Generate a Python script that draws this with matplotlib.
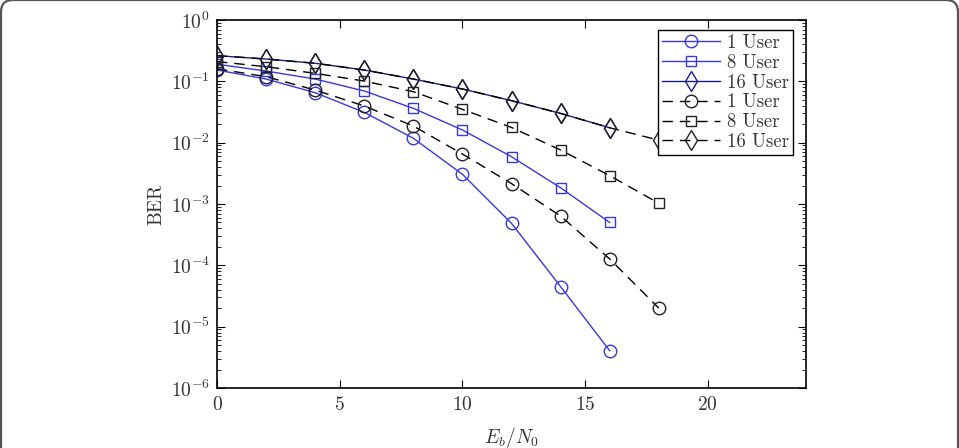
import numpy as np
import matplotlib
matplotlib.use("Agg")
import matplotlib.pyplot as plt
from matplotlib.patches import FancyBboxPatch
from matplotlib.ticker import LogLocator, NullFormatter, FixedLocator

plt.rcParams['font.family'] = ['cmr10', 'DejaVu Serif']
plt.rcParams['mathtext.fontset'] = 'cm'
plt.rcParams['axes.formatter.use_mathtext'] = True

# Data
ebn0_sim = [0, 2, 4, 6, 8, 10, 12, 14, 16]
ebn0_th = [0, 2, 4, 6, 8, 10, 12, 14, 16, 18]

ber_1_sim = [0.153, 0.109, 0.0653, 0.0312, 0.0118, 0.00305, 4.84e-4, 4.5e-5, 4.05e-6]
ber_8_sim = [0.19, 0.147, 0.109, 0.0696, 0.0363, 0.0161, 0.0059, 0.00184, 5.0e-4]
ber_16_sim = [0.262, 0.231, 0.197, 0.153, 0.109, 0.075, 0.0484, 0.030, 0.0175]

ber_1_th = [0.16, 0.119, 0.072, 0.0396, 0.0187, 0.00653, 0.00215, 6.37e-4, 1.27e-4, 2.01e-5]
ber_8_th = [0.21, 0.173, 0.135, 0.101, 0.0678, 0.0349, 0.0177, 0.0076, 0.0029, 0.00103]
ber_16_th = [0.262, 0.231, 0.197, 0.153, 0.109, 0.075, 0.0484, 0.030, 0.0175, 0.0110]

labels = ['1 User', '8 User', '16 User', '1 User', '8 User', '16 User']

W, H = 959, 448
fig = plt.figure(figsize=(W / 100, H / 100), dpi=100)
ax = fig.add_axes([217 / W, 1 - 388 / H, (806 - 217) / W, (388 - 20) / H])

blue = '#3838dc'
navy = '#1c1c8c'
ms = 9
dash = (0, (7.5, 5))

ax.plot(ebn0_sim, ber_1_sim, '-', color=blue, lw=1.0, marker='o', ms=ms, mfc='none', mec=blue, label=labels[0])
ax.plot(ebn0_sim, ber_8_sim, '-', color=blue, lw=1.0, marker='s', ms=ms - 1.5, mfc='none', mec=blue, label=labels[1])
ax.plot(ebn0_sim, ber_16_sim, '-', color=navy, lw=1.0, marker='d', ms=ms + 1.5, mfc='none', mec=navy, label=labels[2])
ax.plot(ebn0_th, ber_1_th, color='black', ls=dash, lw=1.0, marker='o', ms=ms, mfc='none', mec='#222222', label=labels[3])
ax.plot(ebn0_th, ber_8_th, color='black', ls=dash, lw=1.0, marker='s', ms=ms - 1.5, mfc='none', mec='#222222', label=labels[4])
ax.plot(ebn0_th, ber_16_th, color='black', ls=dash, lw=1.0, marker='d', ms=ms + 1.5, mfc='none', mec='#222222', label=labels[5])

ax.set_yscale('log')
ax.set_xlim(0, 24)
ax.set_ylim(1e-6, 1e0)
ax.xaxis.set_major_locator(FixedLocator([0, 5, 10, 15, 20]))
ax.yaxis.set_major_locator(LogLocator(base=10, numticks=10))
ax.yaxis.set_minor_locator(LogLocator(base=10, subs=np.arange(2, 10), numticks=20))
ax.yaxis.set_minor_formatter(NullFormatter())
ax.tick_params(which='both', direction='in', top=True, right=True, labelsize=14, colors='black')
ax.tick_params(which='major', length=6, width=0.8)
ax.tick_params(which='minor', length=3, width=0.6)
ax.tick_params(axis='x', pad=6)
ax.tick_params(axis='y', pad=5)
for s in ax.spines.values():
    s.set_linewidth(1.2)

ax.set_xlabel(r'$E_b/N_0$', fontsize=14, color='#333333')
ax.xaxis.set_label_coords(0.5, -0.1)
ax.set_ylabel('BER', fontsize=14, labelpad=4, color='#333333')
for t in ax.get_xticklabels() + ax.get_yticklabels():
    t.set_color('#333333')

leg = ax.legend(loc='upper right', bbox_to_anchor=(793 / W, 1 - 30 / H), bbox_transform=fig.transFigure,
                fontsize=13.5, handlelength=3.1, handletextpad=0.35, labelspacing=0.1,
                borderpad=0.22, borderaxespad=0, fancybox=False, framealpha=1, edgecolor='black')
leg.get_frame().set_linewidth(1.0)
for t in leg.get_texts():
    t.set_color('#333333')

border = FancyBboxPatch((0.01, -0.6), 9.57, 5.08, boxstyle='round,pad=0,rounding_size=0.12',
                        transform=fig.dpi_scale_trans, fill=False, edgecolor='#555555', lw=1.6)
fig.patches.append(border)

fig.savefig('out.png', dpi=100)
